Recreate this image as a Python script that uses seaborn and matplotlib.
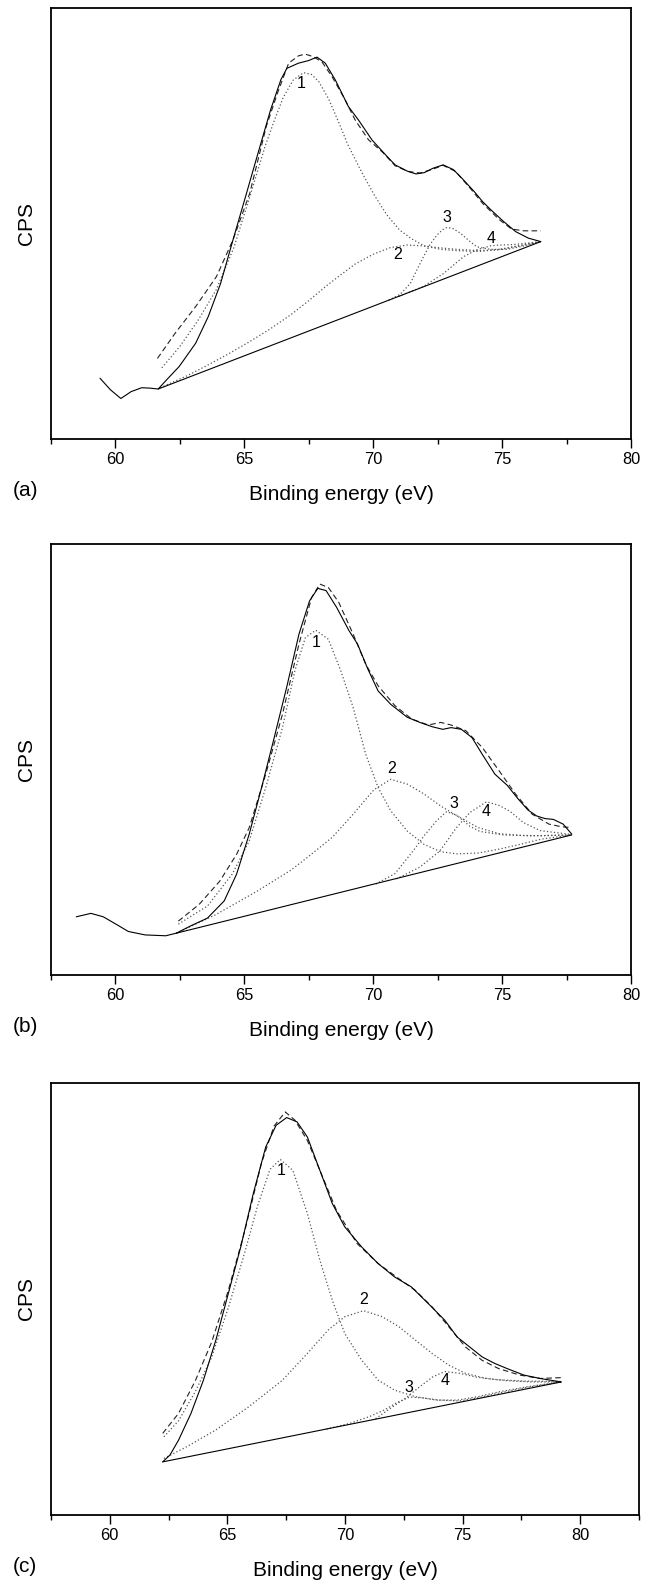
"""XPS fits of three spectra: measured curve, fit envelope, four components and Shirley-type baseline."""
import matplotlib
matplotlib.use("Agg")
import matplotlib.pyplot as plt
from matplotlib.ticker import MultipleLocator
import seaborn as sns

# ---------------- panel (a) ----------------
a_exp_ev = [59.40, 59.81, 60.21, 60.61, 61.02, 61.34, 61.66, 61.98, 62.47, 63.11, 63.60, 64.08, 64.56,
            65.05, 65.53, 66.02, 66.42, 66.65, 67.10, 67.49, 67.82, 68.14, 68.53, 69.04, 69.43, 69.95,
            70.53, 70.85, 71.34, 71.66, 71.98, 72.31, 72.71, 73.11, 73.44, 73.92, 74.24, 74.56, 75.05,
            75.53, 76.02, 76.50]
a_exp_cps = [14.1, 11.4, 9.4, 11.0, 11.9, 11.8, 11.6, 13.7, 16.8, 22.2, 28.4, 36.1, 46.2,
             56.3, 66.3, 76.4, 83.4, 86.0, 87.2, 87.8, 88.6, 87.2, 83.3, 77.1, 74.0, 69.4,
             65.6, 63.6, 62.1, 61.5, 61.8, 62.8, 63.6, 62.5, 60.5, 57.4, 55.1, 53.2, 50.5,
             48.1, 46.6, 45.8]
a_env_ev = [61.63, 62.31, 63.11, 63.92, 64.56, 65.21, 65.85, 66.30, 66.72, 67.10, 67.36, 67.68, 68.01,
            68.40, 68.91, 69.30, 69.82, 70.37, 70.85, 71.34, 71.82, 72.31, 72.71, 73.19, 73.76, 74.24,
            74.89, 75.37, 75.85, 76.50]
a_env_cps = [18.7, 24.5, 30.7, 37.7, 46.2, 57.0, 72.5, 80.5, 87.2, 88.9, 89.3, 88.7, 87.5,
             84.1, 78.7, 74.0, 69.4, 66.5, 63.4, 62.1, 61.7, 62.6, 63.5, 62.1, 58.2, 54.7,
             50.9, 48.7, 48.3, 48.3]
a_base_ev = [61.66, 76.50]
a_base_cps = [11.6, 45.8]
a_p1_ev = [61.80, 62.50, 63.20, 63.90, 64.60, 65.20, 65.81, 66.20, 66.52, 66.90, 67.30, 67.60, 67.88,
           68.27, 68.66, 69.00, 69.50, 70.05, 70.53, 71.02, 71.50, 71.98, 72.63, 73.27, 74.08, 74.89,
           75.69, 76.50]
a_p1_cps = [16.5, 21.5, 27.5, 34.5, 44.5, 56.0, 68.0, 74.5, 79.4, 83.3, 85.0, 84.6, 83.0,
            78.9, 73.5, 68.5, 62.5, 56.5, 52.0, 48.5, 46.4, 44.8, 44.0, 43.7, 43.5, 44.0,
            44.9, 45.8]
a_p2_ev = [61.74, 62.79, 63.60, 64.40, 65.21, 66.02, 66.82, 67.50, 68.20, 68.72, 69.30, 70.01, 70.66,
           71.31, 71.95, 72.50, 73.27, 74.08, 74.89, 75.69, 76.50]
a_p2_cps = [11.9, 14.7, 17.2, 19.8, 22.6, 25.6, 28.9, 32.1, 35.6, 38.0, 40.6, 42.9, 44.4,
            45.0, 44.8, 44.4, 44.0, 43.7, 43.9, 44.8, 45.8]
a_p3_ev = [70.60, 71.05, 71.44, 71.69, 71.95, 72.21, 72.47, 72.70, 72.86, 73.10, 73.37, 73.76, 74.02,
           74.54, 75.19, 75.85, 76.50]
a_p3_cps = [32.2, 33.6, 36.1, 39.2, 42.3, 45.2, 47.3, 48.6, 49.1, 48.8, 47.8, 45.8, 44.6,
            44.0, 44.0, 44.8, 45.8]
a_p4_ev = [71.00, 71.95, 72.73, 73.50, 74.02, 74.54, 74.90, 75.40, 75.90, 76.50]
a_p4_cps = [33.1, 35.4, 38.4, 42.3, 43.9, 44.8, 45.0, 45.1, 45.4, 45.8]
a_tag_ev = [67.22, 70.94, 72.86, 74.58]
a_tag_cps = [82.5, 42.7, 51.4, 46.6]

# ---------------- panel (b) ----------------
b_exp_ev = [58.48, 59.05, 59.53, 60.02, 60.50, 61.15, 61.95, 62.36, 62.92, 63.57, 64.22, 64.70, 65.19,
            65.67, 66.16, 66.64, 67.12, 67.53, 67.85, 68.17, 68.58, 69.06, 69.39, 69.79, 70.19, 70.68,
            71.32, 71.81, 72.29, 72.70, 73.02, 73.42, 73.83, 74.23, 74.72, 75.20, 75.60, 76.00, 76.34,
            76.66, 76.99, 77.37, 77.70]
b_exp_cps = [13.5, 14.3, 13.5, 11.8, 10.1, 9.3, 9.1, 9.7, 11.4, 13.2, 17.2, 23.4, 32.7,
             43.5, 55.1, 66.7, 79.1, 86.8, 89.7, 89.2, 85.3, 79.9, 76.8, 71.0, 65.9, 62.8,
             59.8, 58.6, 57.6, 57.0, 57.4, 57.0, 55.1, 51.2, 46.6, 44.0, 41.0, 38.3, 36.9,
             36.3, 36.1, 35.0, 32.7]
b_env_ev = [62.44, 63.25, 64.05, 64.70, 65.19, 65.83, 66.48, 67.12, 67.61, 67.93, 68.26, 68.66, 69.22,
            69.71, 70.19, 70.84, 71.49, 72.13, 72.62, 73.02, 73.59, 74.23, 74.88, 75.52, 76.17, 76.82,
            77.30, 77.70]
b_env_cps = [12.5, 16.4, 21.8, 28.0, 34.2, 46.6, 60.5, 76.8, 87.6, 90.7, 89.9, 86.5, 79.1,
             72.1, 67.1, 62.5, 59.4, 58.0, 58.6, 58.0, 56.7, 52.8, 47.4, 42.0, 37.3, 35.0,
             34.4, 34.2]
b_base_ev = [62.36, 77.70]
b_base_cps = [9.7, 32.5]
b_p1_ev = [62.44, 63.57, 64.54, 65.19, 65.83, 66.48, 66.96, 67.37, 67.77, 68.26, 68.74, 69.22, 69.71,
           70.19, 70.68, 71.32, 71.97, 72.62, 73.26, 74.07, 74.88, 75.69, 76.50, 77.70]
b_p1_cps = [11.8, 16.0, 23.5, 31.1, 43.5, 57.4, 70.6, 78.3, 80.0, 77.9, 70.6, 62.1, 51.2,
            43.5, 38.1, 33.4, 30.3, 28.6, 28.1, 28.3, 29.2, 30.3, 31.5, 32.5]
b_p2_ev = [62.36, 63.89, 65.51, 66.80, 67.45, 68.42, 69.22, 70.03, 70.68, 71.32, 71.97, 72.62, 73.26,
           74.07, 74.88, 75.69, 76.50, 77.70]
b_p2_cps = [9.7, 14.0, 19.5, 24.3, 27.3, 32.0, 37.3, 43.0, 45.4, 44.3, 42.0, 39.2, 36.9,
            34.2, 32.8, 32.4, 32.3, 32.5]
b_p3_ev = [70.10, 70.84, 71.55, 72.00, 72.46, 72.85, 73.26, 73.75, 74.14, 75.05, 76.10, 77.70]
b_p3_cps = [21.1, 23.5, 28.8, 32.5, 35.8, 37.9, 37.0, 34.5, 33.3, 32.5, 32.3, 32.5]
b_p4_ev = [70.90, 71.80, 72.59, 73.23, 73.75, 74.40, 74.90, 75.30, 75.82, 76.47, 77.14, 77.70]
b_p4_cps = [22.3, 25.0, 28.8, 34.2, 37.7, 40.2, 39.3, 38.0, 35.4, 33.5, 33.0, 32.6]
b_tag_ev = [67.80, 70.71, 73.13, 74.38]
b_tag_cps = [77.2, 47.8, 39.8, 37.9]

# ---------------- panel (c) ----------------
c_exp_ev = [62.25, 62.56, 62.92, 63.45, 63.98, 64.51, 65.04, 65.57, 66.10, 66.63, 67.07, 67.52, 67.96,
            68.40, 68.93, 69.46, 69.99, 70.70, 71.41, 72.11, 72.82, 73.53, 74.24, 74.77, 75.30, 75.83,
            76.36, 76.89, 77.60, 78.30, 79.19]
c_exp_cps = [12.3, 13.9, 17.3, 23.5, 31.2, 40.5, 51.3, 62.1, 74.4, 85.2, 90.2, 92.0, 91.0,
             87.5, 79.8, 72.1, 66.7, 62.1, 58.2, 55.1, 52.8, 49.0, 45.1, 41.2, 38.9, 36.6,
             35.1, 33.9, 32.4, 31.6, 30.8]
c_env_ev = [62.25, 62.92, 63.63, 64.33, 65.04, 65.75, 66.45, 66.98, 67.46, 67.87, 68.40, 68.93, 69.64,
            70.52, 71.41, 72.29, 72.99, 73.70, 74.41, 75.12, 75.83, 76.53, 77.42, 78.30, 79.19]
c_env_cps = [18.9, 23.5, 31.0, 40.0, 52.0, 66.0, 81.5, 90.0, 93.3, 91.4, 86.7, 79.8, 70.5,
             62.8, 58.2, 54.7, 52.0, 48.2, 43.6, 38.9, 35.8, 33.9, 32.4, 31.6, 31.8]
c_base_ev = [62.25, 79.19]
c_base_cps = [12.3, 30.8]
c_p1_ev = [62.30, 62.92, 63.63, 64.33, 65.04, 65.75, 66.28, 66.81, 67.25, 67.78, 68.40, 68.93, 69.46,
           69.99, 70.70, 71.41, 72.11, 72.99, 73.88, 74.77, 75.65, 76.53, 77.77, 79.19]
c_p1_cps = [18.1, 21.8, 28.5, 36.5, 48.0, 61.0, 71.5, 80.0, 82.3, 79.8, 69.8, 59.0, 49.7,
            42.0, 35.9, 31.2, 28.9, 27.4, 26.6, 26.6, 27.4, 28.5, 29.7, 30.8]
c_p2_ev = [62.30, 63.27, 64.51, 65.92, 67.34, 68.40, 69.28, 69.99, 70.79, 71.58, 72.29, 72.99, 73.70,
           74.41, 75.12, 76.00, 76.89, 77.95, 79.19]
c_p2_cps = [13.1, 15.8, 19.7, 25.1, 31.2, 37.4, 42.8, 45.9, 47.3, 45.9, 43.6, 40.5, 37.4,
            34.7, 32.8, 31.6, 31.1, 30.8, 30.8]
c_p3_ev = [69.21, 70.20, 71.05, 71.70, 72.20, 72.75, 73.30, 74.00, 74.88, 75.70, 76.60, 77.80, 79.19]
c_p3_cps = [19.9, 21.2, 22.8, 24.4, 26.0, 27.3, 27.1, 26.6, 26.4, 27.2, 28.3, 29.6, 30.8]
c_p4_ev = [71.30, 72.04, 72.61, 73.18, 73.74, 74.24, 74.88, 75.60, 76.50, 77.60, 79.19]
c_p4_cps = [22.3, 25.1, 27.2, 29.7, 32.0, 33.2, 32.8, 31.9, 31.3, 31.0, 30.9]
c_tag_ev = [67.27, 70.79, 72.71, 74.27]
c_tag_cps = [79.8, 49.8, 29.5, 31.2]

peak_names = ["1", "2", "3", "4"]
panel_names = ["(a)", "(b)", "(c)"]
x_max = [80.0, 80.0, 82.5]

sns.set_style("ticks")
plt.rcParams["font.family"] = ["Liberation Sans", "DejaVu Sans"]
plt.rcParams.update({
    "text.color": "black",
    "axes.labelcolor": "black",
    "axes.edgecolor": "black",
    "xtick.color": "black",
    "ytick.color": "black",
})

STYLES = {
    "exp": dict(color="black", lw=0.8, ls="-"),
    "env": dict(color="#222222", lw=0.8, ls=(0, (5, 3))),
    "peak": dict(color="#555555", lw=0.9, ls=(0, (1, 1.8))),
    "base": dict(color="black", lw=0.8, ls="-"),
}


def trace(ax, ev, cps, kind):
    sns.lineplot(x=ev, y=cps, ax=ax, sort=False, estimator=None, errorbar=None,
                 solid_joinstyle="round", **STYLES[kind])


fig = plt.figure(figsize=(6.52, 15.87), dpi=100)
W, H = 652, 1587
# left, right, top, bottom of each axes box in pixels
boxes = [(51, 631, 8, 439), (51, 631, 544, 975), (51, 639, 1083, 1515)]

panels = [
    (a_exp_ev, a_exp_cps, a_env_ev, a_env_cps, a_base_ev, a_base_cps,
     [(a_p1_ev, a_p1_cps), (a_p2_ev, a_p2_cps), (a_p3_ev, a_p3_cps), (a_p4_ev, a_p4_cps)],
     a_tag_ev, a_tag_cps),
    (b_exp_ev, b_exp_cps, b_env_ev, b_env_cps, b_base_ev, b_base_cps,
     [(b_p1_ev, b_p1_cps), (b_p2_ev, b_p2_cps), (b_p3_ev, b_p3_cps), (b_p4_ev, b_p4_cps)],
     b_tag_ev, b_tag_cps),
    (c_exp_ev, c_exp_cps, c_env_ev, c_env_cps, c_base_ev, c_base_cps,
     [(c_p1_ev, c_p1_cps), (c_p2_ev, c_p2_cps), (c_p3_ev, c_p3_cps), (c_p4_ev, c_p4_cps)],
     c_tag_ev, c_tag_cps),
]

for i, (exp_ev, exp_cps, env_ev, env_cps, base_ev, base_cps, peaks, tag_ev, tag_cps) in enumerate(panels):
    left, right, top, bottom = boxes[i]
    ax = fig.add_axes([left / W, 1 - bottom / H, (right - left) / W, (bottom - top) / H])
    w_px, h_px = right - left, bottom - top

    for pk_ev, pk_cps in peaks:
        trace(ax, pk_ev, pk_cps, "peak")
    trace(ax, base_ev, base_cps, "base")
    trace(ax, env_ev, env_cps, "env")
    trace(ax, exp_ev, exp_cps, "exp")

    for name, tx, ty in zip(peak_names, tag_ev, tag_cps):
        ax.text(tx, ty, name, ha="center", va="center", fontsize=11.5)

    ax.set_xlim(57.5, x_max[i])
    ax.set_ylim(0, 100)
    ax.xaxis.set_major_locator(MultipleLocator(5))
    ax.xaxis.set_minor_locator(MultipleLocator(2.5))
    ax.set_yticks([])
    ax.tick_params(axis="x", which="major", direction="out", length=6.5, width=1.0,
                   labelsize=11.8, pad=3.2)
    ax.tick_params(axis="x", which="minor", direction="out", length=3.6, width=1.0)
    for sp in ax.spines.values():
        sp.set_visible(True)
        sp.set_linewidth(1.3)

    ax.set_xlabel("Binding energy (eV)", fontsize=15)
    ax.xaxis.set_label_coords(0.5, -46 / h_px)
    ax.set_ylabel("CPS", fontsize=15)
    ax.yaxis.set_label_coords(-15 / w_px, 0.5)
    ax.text(-26 / w_px, -52 / h_px, panel_names[i], transform=ax.transAxes,
            ha="center", va="center", fontsize=15)

fig.savefig("out.png", dpi=100)
